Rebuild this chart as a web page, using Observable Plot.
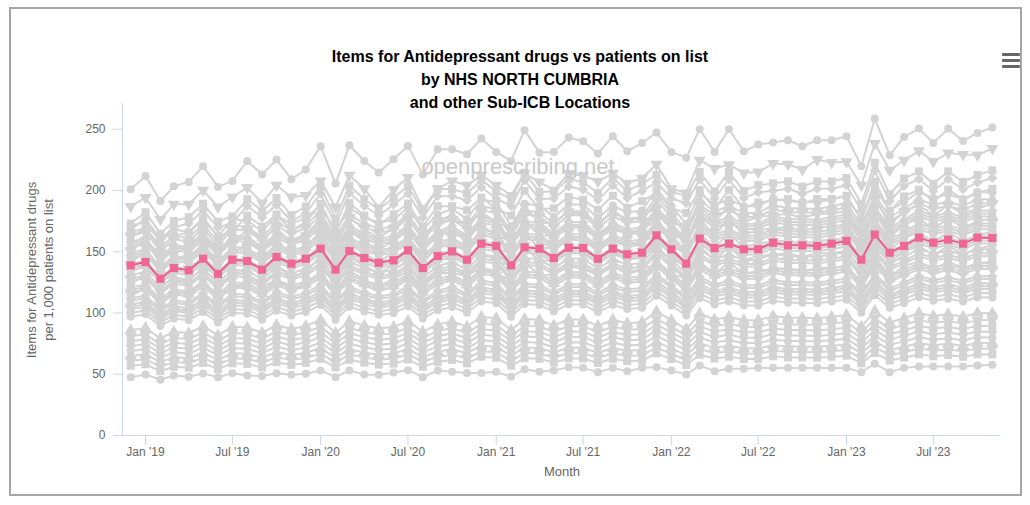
<!DOCTYPE html>
<html><head><meta charset="utf-8">
<script src="https://cdn.jsdelivr.net/npm/d3@7"></script>
<script src="https://cdn.jsdelivr.net/npm/@observablehq/plot@0.6"></script>
<style>
html,body{margin:0;padding:0;background:#fff;}
body{width:1030px;height:505px;position:relative;overflow:hidden;font-family:"Liberation Sans",Arial,sans-serif;}
#frame{position:absolute;left:9px;top:7px;width:1009px;height:485px;border:2px solid #a6a6a6;box-sizing:content-box;}
#title{position:absolute;left:10px;width:1020px;top:45px;text-align:center;font-weight:bold;font-size:16px;line-height:23px;color:#000;}
#menu{position:absolute;left:1002px;top:53px;width:18px;}
#menu div{height:3px;background:#666;margin-bottom:3px;border-radius:1px;}
#chart{position:absolute;left:0;top:95px;}
#ytitle{position:absolute;left:-110px;top:253px;width:300px;text-align:center;transform:rotate(-90deg);font-size:13px;line-height:17px;color:#666;}
#xtitle{position:absolute;left:462px;width:200px;top:464px;text-align:center;font-size:13px;color:#666;}
#watermark{position:absolute;left:368px;width:300px;top:154px;text-align:center;font-size:22px;color:#c9c9c9;}
</style>
</head><body>
<div id="frame"></div>
<div id="title">Items for Antidepressant drugs vs patients on list<br>by NHS NORTH CUMBRIA<br>and other Sub-ICB Locations</div>
<div id="menu"><div></div><div></div><div></div></div>
<div id="chart"></div>
<div id="ytitle">Items for Antidepressant drugs<br>per 1,000 patients on list</div>
<div id="xtitle">Month</div>
<div id="watermark">openprescribing.net</div>
<script>
// Months: Dec 2018 .. Nov 2023
const months = d3.utcMonth.range(new Date(Date.UTC(2018, 11, 1)), new Date(Date.UTC(2023, 11, 1)));

// NHS North Cumbria (highlighted)
const northCumbria = [138.9,141.6,128,136.7,134.8,144.3,132,143.5,142.4,135.4,145.7,140.3,144.3,
  152.5,135.4,150.6,144.9,141,143,151.1,136.7,146.5,150.3,143.5,156.6,
  154.7,138.9,153.6,152.5,144.9,153.3,153,144.3,152.5,147.9,149.2,163.4,
  152,140.3,160.7,153,156.6,152,152,157.4,155.2,155.2,154.7,156.6,
  158.8,143.5,164,149.2,154.7,161.5,157.4,159.9,156.6,161.5,161.2];

// Highest other Sub-ICB location (circle markers)
const topLocation = [201,211.8,191.4,203.4,207,219.8,202.9,207.8,224.1,213,225.2,209.2,217.1,
  236.1,205.6,236.9,224.1,214.6,225.5,236.4,213,233.7,233.7,229.6,242.4,
  231.5,224.1,249.2,230.9,231.5,243.2,240.2,230.1,244.3,232,238.8,247.3,
  231.5,226.8,250,231.5,250,232,237.5,239.1,241,236.1,241,241,
  244.3,219.8,258.7,228.8,243.7,250.5,238.8,250.5,240.4,247,251.4];

// Second highest (triangle-down markers)
const secondLocation = [187,194.2,176.5,188.7,188.7,200.2,186.5,194.7,202.4,189.8,204.2,194.7,196,
  207.8,186.5,212.4,201.5,186,200.7,210.5,185.2,201.5,207.8,204.2,212.4,
  204.2,196,213.8,207,200.2,213.8,212,207.5,214,206,210,221.4,
  201.5,198,224.7,217.9,221.1,214.3,215,222,221.4,217.1,225.2,222.8,
  223.4,204.2,238.3,216.5,224.7,232.4,223.6,230.6,229.3,229,234.2];

// Lowest (circle markers)
const bottomLocation = [47.6,49.8,45.5,49,47.9,50.7,47.6,50.9,49,48.5,50.9,49.5,50.4,
  53.1,47.6,53.1,49.8,49.5,51.5,53.3,47.6,53.1,52,51,51,
  52,48,54,52,53,55.8,55.2,51.7,55.2,52.5,55.2,55.8,
  53.1,49.8,57.2,52.5,54.5,54.5,55.2,55.2,55.2,55.2,55.2,55.2,
  55.2,51.7,58.6,51.7,55.2,56.4,56.4,56.4,56.4,57.2,57.8];

// Other Sub-ICB locations: Dec 2018 level, read from the dense band,
// and which of the read series their month-to-month profile follows
const bandLevels = [173,168,171,166,163,161,158,156,154,151,149,147,145,142,140,137,135,133,
  131,128,126,124,121,119,117,114,112,110,107,105,103,100,97,86,81,77,73,69,65,61,57];
const bandProfile = ["top","top","nc","nc","nc","top","nc","nc","nc","top","nc","nc","nc","top","nc","nc","nc","top",
  "nc","nc","nc","top","nc","nc","nc","top","nc","nc","nc","nc","nc","nc","nc","nc","nc","nc","nc","nc","nc","nc","nc"];
const symbolCycle = ["square","diamond2","circle","triangle","triangleDown"];

const triangleDown = {
  draw(context, size) {
    const s3 = Math.sqrt(3);
    const y = -Math.sqrt(size / (s3 * 3));
    context.moveTo(0, -y * 2);
    context.lineTo(-s3 * y, y);
    context.lineTo(s3 * y, y);
    context.closePath();
  }
};

const gray = [];
function addSeries(name, values, symbol) {
  values.forEach((v, i) => gray.push({series: name, date: months[i], value: v, symbol}));
}
addSeries("top", topLocation, "circle");
addSeries("second", secondLocation, "triangleDown");
bandLevels.forEach((lvl, k) => {
  const src = bandProfile[k] === "top" ? topLocation : northCumbria;
  addSeries("band" + k, src.map(v => lvl * v / src[0]), symbolCycle[k % symbolCycle.length]);
});
addSeries("bottom", bottomLocation, "circle");

const nc = northCumbria.map((v, i) => ({date: months[i], value: v}));

const xDomain = [new Date(Date.UTC(2018, 10, 14)), new Date(Date.UTC(2023, 10, 18))];
const grayColor = "#d3d3d3";
const symbolMarks = ["circle","diamond2","square","triangle","triangleDown"].map(s =>
  Plot.dot(gray.filter(d => d.symbol === s), {
    x: "date", y: "value",
    symbol: s === "triangleDown" ? triangleDown : s,
    r: s === "circle" ? 4 : 4.5,
    fill: grayColor
  })
);

const chart = Plot.plot({
  width: 1030, height: 390,
  marginLeft: 122, marginRight: 30, marginTop: 8, marginBottom: 50,
  x: {type: "utc", domain: xDomain},
  y: {domain: [0, 271]},
  style: {fontFamily: '"Liberation Sans", Arial, sans-serif', fontSize: "12px", background: "transparent", color: "#666"},
  marks: [
    Plot.ruleY([0], {stroke: "#ccd6eb"}),
    Plot.ruleX([xDomain[0]], {stroke: "#ccd6eb"}),
    Plot.line(gray, {x: "date", y: "value", z: "series", stroke: grayColor, strokeWidth: 2}),
    ...symbolMarks,
    Plot.line(nc, {x: "date", y: "value", stroke: "#ec5b8b", strokeWidth: 2}),
    Plot.dot(nc, {x: "date", y: "value", symbol: "square", r: 4.6, fill: "#ef6795"}),
    Plot.axisY({ticks: [0, 50, 100, 150, 200, 250], tickSize: 9, tickPadding: 8, stroke: "#ccd6eb", fill: "#666", label: null}),
    Plot.axisX({ticks: d3.utcMonth.every(6).range(new Date(Date.UTC(2019,0,1)), new Date(Date.UTC(2023,11,1))),
      tickFormat: d3.utcFormat("%b '%y"), tickSize: 10, tickPadding: 2, stroke: "#ccd6eb", fill: "#666", label: null})
  ]
});
document.getElementById("chart").appendChild(chart);
</script>
</body></html>
